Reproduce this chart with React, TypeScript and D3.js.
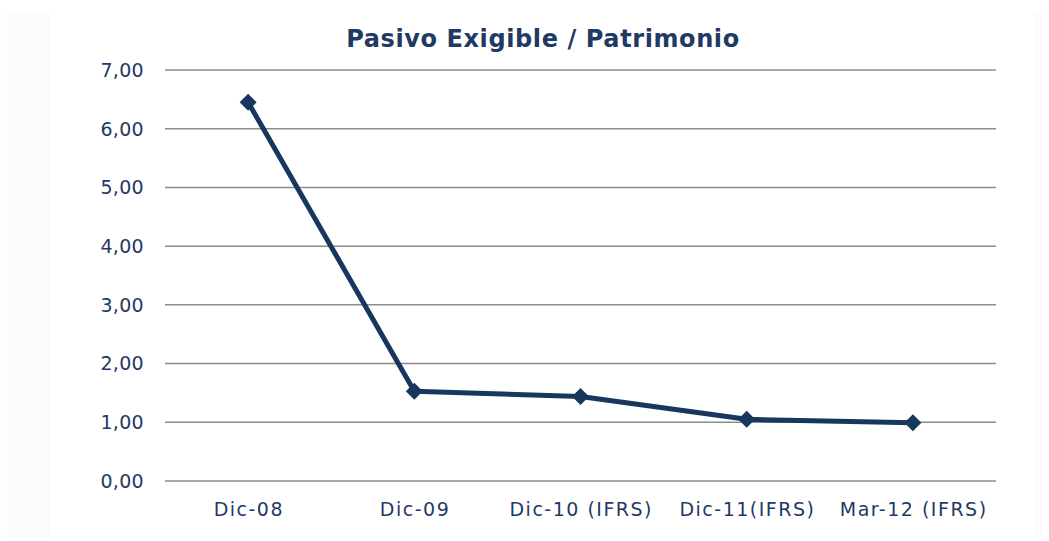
import React from "react";
import * as d3 from "d3";

const categories = ["Dic-08", "Dic-09", "Dic-10 (IFRS)", "Dic-11(IFRS)", "Mar-12 (IFRS)"];
const values = [6.45, 1.53, 1.44, 1.05, 0.99];
const yTicks = [0, 1, 2, 3, 4, 5, 6, 7];
const title = "Pasivo Exigible / Patrimonio";

const W = 1049;
const H = 541;
const margin = { left: 165, right: 53, top: 70, bottom: 60 };
const textColor = "#1F3A64";
const lineColor = "#17375E";
const font = "'DejaVu Sans', Verdana, sans-serif";

export default function App() {
  const x = d3
    .scaleBand<string>()
    .domain(categories)
    .range([margin.left, W - margin.right]);
  const y = d3.scaleLinear().domain([0, 7]).range([H - margin.bottom, margin.top]);
  const line = d3
    .line<number>()
    .x((_, i) => (x(categories[i]) as number) + x.bandwidth() / 2)
    .y((d) => y(d));
  const fmt = (v: number) => d3.format(".2f")(v).replace(".", ",");
  const ds = 8.5;

  return (
    <svg
      width={W}
      height={H}
      style={{ position: "absolute", left: 0, top: 0, background: "#fff" }}
      fontFamily={font}
    >
      <rect x={7} y={12} width={1035} height={525} fill="#fcfcfc" />
      <rect x={50} y={12} width={984} height={525} fill="#ffffff" />
      <text
        x={543}
        y={47}
        textAnchor="middle"
        fontSize={24}
        fontWeight="bold"
        letterSpacing={0.6}
        fill={textColor}
      >
        {title}
      </text>
      {yTicks.map((t) => (
        <g key={t}>
          <line
            x1={margin.left}
            x2={W - margin.right}
            y1={y(t)}
            y2={y(t)}
            stroke="#8c8c8c"
            strokeWidth={1.5}
          />
          <text
            x={144}
            y={y(t)}
            dy="0.36em"
            textAnchor="end"
            fontSize={19}
            letterSpacing={0.3}
            fill={textColor}
          >
            {fmt(t)}
          </text>
        </g>
      ))}
      {categories.map((c) => (
        <text
          key={c}
          x={(x(c) as number) + x.bandwidth() / 2 + 0.75}
          y={516}
          textAnchor="middle"
          fontSize={19}
          letterSpacing={1.5}
          fill={textColor}
        >
          {c}
        </text>
      ))}
      <path
        d={line(values) || ""}
        fill="none"
        stroke={lineColor}
        strokeWidth={5}
        strokeLinejoin="round"
      />
      {values.map((v, i) => {
        const cx = (x(categories[i]) as number) + x.bandwidth() / 2;
        const cy = y(v);
        return (
          <path
            key={i}
            d={`M${cx},${cy - ds}L${cx + ds},${cy}L${cx},${cy + ds}L${cx - ds},${cy}Z`}
            fill={lineColor}
          />
        );
      })}
    </svg>
  );
}
